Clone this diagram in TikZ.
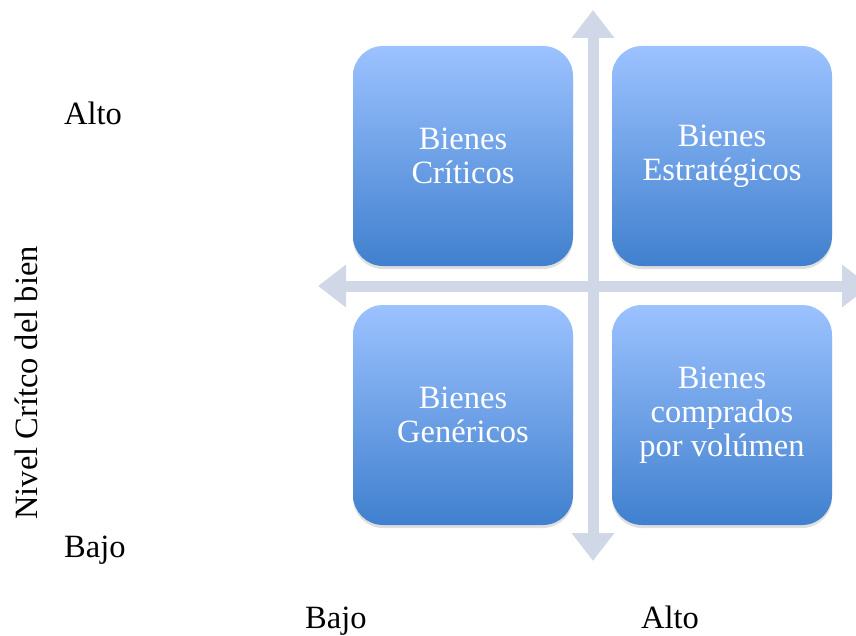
\documentclass[tikz,border=0pt]{standalone}
\usepackage{fontspec}
\setmainfont{Liberation Serif}
\usetikzlibrary{arrows.meta,shadows}
\definecolor{boxtop}{RGB}{156,194,255}
\definecolor{boxbot}{RGB}{64,128,206}
\definecolor{axiscol}{RGB}{208,216,232}
\tikzset{
    every node/.style={font=\fontsize{32.5}{34}\selectfont, inner sep=0pt}
}
\tikzset{
    bien/.style={rectangle, rounded corners=30pt, minimum width=220pt,
    	minimum height=220pt, top color=boxtop, bottom color=boxbot,
    	text=white, align=center,
    	drop shadow={shadow xshift=0pt, shadow yshift=-3pt, opacity=.25}}
}
\tikzset{
    eje/.style={draw=axiscol, line width=11pt,
    	{Triangle[width=41pt,length=28pt]}-{Triangle[width=41pt,length=28pt]}}
}

\begin{document}
\begin{tikzpicture}[x=1pt, y=-1pt]
  \useasboundingbox (0,0) rectangle (856,636);
  \clip (0,0) rectangle (856,636);

  % ejes
  \coordinate (izq) at (318, 286);
  \coordinate (der) at (870, 286);
  \coordinate (arr) at (593, 10);
  \coordinate (aba) at (593, 561);
  \draw[eje] (izq) -- (der);
  \draw[eje] (aba) -- (arr);

  % cuadrantes
  \node[bien] (criticos) at (463, 156) {Bienes\\Críticos};
  \node[bien] (estrat) at (722, 156) {Bienes\\Estratégicos};
  \node[bien] (generic) at (463, 415) {Bienes\\Genéricos};
  \node[bien] (volumen) at (722, 415) {Bienes\\comprados\\por volúmen};

  % etiquetas
  \node[anchor=base west] (altoy) at (64, 125) {Alto};
  \node[anchor=base west] (bajoy) at (64, 557) {Bajo};
  \node[anchor=base, rotate=90] (nivel) at (37, 383) {Nivel Crítco del bien};
  \node[anchor=base west] (bajox) at (305, 628) {Bajo};
  \node[anchor=base west] (altox) at (641, 628) {Alto};
\end{tikzpicture}
\end{document}
